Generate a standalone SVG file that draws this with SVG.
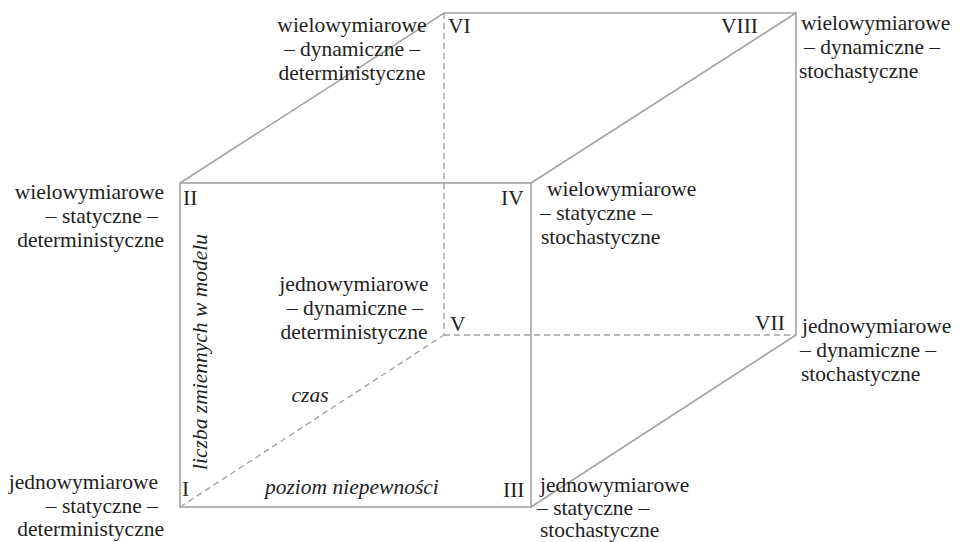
<svg xmlns="http://www.w3.org/2000/svg" width="962" height="542" viewBox="0 0 962 542">
  <style>
    .edge { stroke: #a3a3a3; stroke-width: 1.6; fill: none; }
    .hidden { stroke: #a3a3a3; stroke-width: 1.4; fill: none; stroke-dasharray: 6 4; }
    .lbl { font-family: 'Liberation Serif', 'DejaVu Serif', serif; font-size: 21.5px; fill: #222222; }
    .axis { font-style: italic; }
    .mid { text-anchor: middle; }
    .end { text-anchor: end; }
  </style>
  <rect width="962" height="542" fill="#ffffff"/>

  <!-- cube edges -->
  <g id="connectors">
    <!-- hidden (back) edges -->
    <line class="hidden" x1="444" y1="13" x2="444" y2="335"/>
    <line class="hidden" x1="444" y1="335" x2="796" y2="335"/>
    <line class="hidden" x1="180" y1="507" x2="444" y2="335"/>
    <!-- visible edges -->
    <rect class="edge" x="180" y="183" width="351" height="324"/>
    <polyline class="edge" points="180,183 444,13 796,13 796,335 531,507"/>
    <line class="edge" x1="531" y1="183" x2="796" y2="13"/>
  </g>

  <g class="lbl" font-family="Liberation Serif, DejaVu Serif, serif">
    <!-- axis labels -->
    <g id="axes">
      <text class="axis" transform="translate(207,352) rotate(-90)" text-anchor="middle">liczba zmiennych w modelu</text>
      <text class="axis mid" x="310" y="402">czas</text>
      <text class="axis" x="265" y="494">poziom niepewności</text>
    </g>

    <!-- vertex I -->
    <g id="v1">
      <text x="182" y="496">I</text>
      <text class="end" x="158" y="489">jednowymiarowe</text>
      <text class="end" x="158" y="513">– statyczne –</text>
      <text class="end" x="164" y="536">deterministyczne</text>
    </g>

    <!-- vertex II -->
    <g id="v2">
      <text x="183" y="205">II</text>
      <text class="end" x="164" y="199">wielowymiarowe</text>
      <text class="end" x="158" y="223">– statyczne –</text>
      <text class="end" x="164" y="247">deterministyczne</text>
    </g>

    <!-- vertex III -->
    <g id="v3">
      <text x="503" y="497">III</text>
      <text x="540" y="492">jednowymiarowe</text>
      <text x="537" y="515">– statyczne –</text>
      <text x="540" y="537">stochastyczne</text>
    </g>

    <!-- vertex IV -->
    <g id="v4">
      <text x="501" y="205">IV</text>
      <text x="547" y="196">wielowymiarowe</text>
      <text x="540" y="220">– statyczne –</text>
      <text x="541" y="244">stochastyczne</text>
    </g>

    <!-- vertex V -->
    <g id="v5">
      <text x="450" y="331">V</text>
      <text class="mid" x="354" y="291">jednowymiarowe</text>
      <text class="mid" x="355" y="315">– dynamiczne –</text>
      <text class="mid" x="354" y="339">deterministyczne</text>
    </g>

    <!-- vertex VI -->
    <g id="v6">
      <text x="448" y="33">VI</text>
      <text class="mid" x="352" y="32">wielowymiarowe</text>
      <text class="mid" x="352" y="56">– dynamiczne –</text>
      <text class="mid" x="352" y="80">deterministyczne</text>
    </g>

    <!-- vertex VII -->
    <g id="v7">
      <text x="755" y="330">VII</text>
      <text x="802" y="333">jednowymiarowe</text>
      <text x="800" y="357">– dynamiczne –</text>
      <text x="801" y="381">stochastyczne</text>
    </g>

    <!-- vertex VIII -->
    <g id="v8">
      <text x="721" y="33">VIII</text>
      <text x="801" y="30">wielowymiarowe</text>
      <text x="804" y="54">– dynamiczne –</text>
      <text x="799" y="78">stochastyczne</text>
    </g>
  </g>
</svg>
